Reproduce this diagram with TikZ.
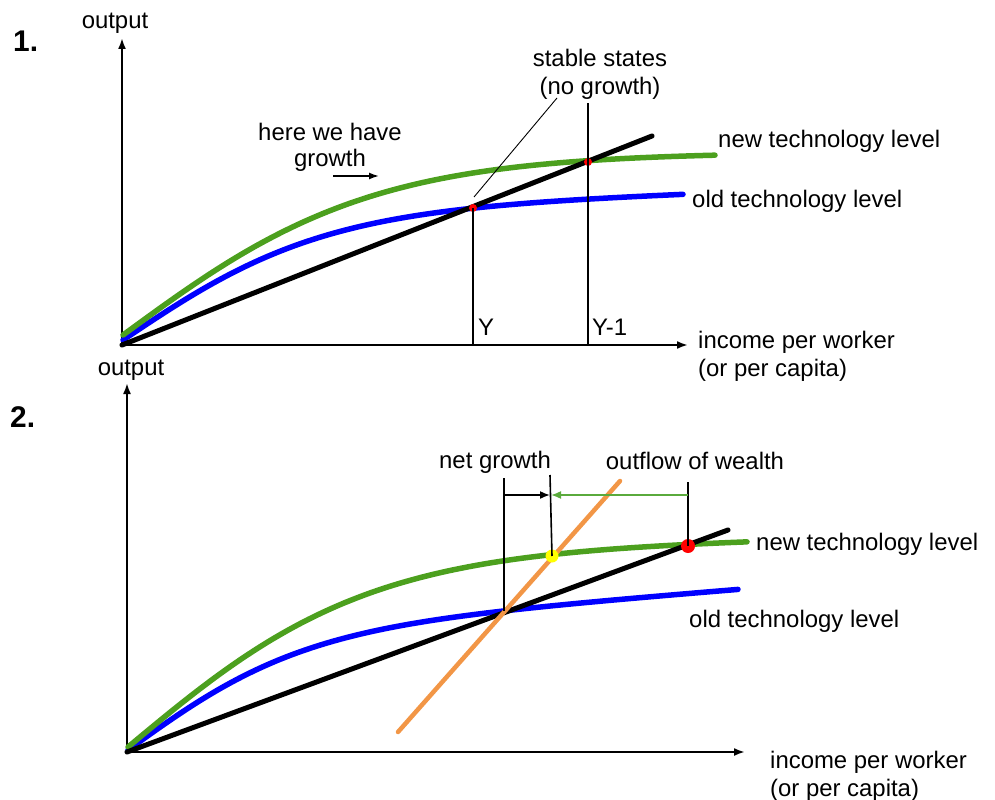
\documentclass[tikz,border=0pt]{standalone}
\usepackage{fontspec}
\setmainfont{Liberation Sans}
\usetikzlibrary{arrows.meta}
\definecolor{cgreen}{RGB}{76,160,30}
\definecolor{cblue}{RGB}{0,0,255}
\definecolor{corange}{RGB}{242,150,70}
\definecolor{cgreenarrow}{RGB}{90,170,60}
\definecolor{cred}{RGB}{255,0,0}
\definecolor{cyellow}{RGB}{255,255,0}
\begin{document}
\begin{tikzpicture}[x=1bp,y=-1bp,
  lbl/.style={font=\fontsize{24}{28}\selectfont, inner sep=0pt},
  numlbl/.style={font=\fontsize{30}{34}\selectfont\bfseries, inner sep=0pt},
  axis/.style={line width=2bp, -{Latex[length=11bp,width=8bp]}},
  curve/.style={line width=5.5bp, line cap=round},
  guide/.style={line width=1.6bp},
  pointer/.style={line width=0.9bp},
  dot/.style={circle, inner sep=0pt, minimum size=#1},
  smallarrow/.style={line width=1.6bp, -{Latex[length=10bp,width=7bp]}}
]
\useasboundingbox (0,0) rectangle (995,800);

% ---------------- Panel 1 ----------------
\node[numlbl, anchor=base west] (n1) at (13,52) {1.};
\coordinate (O1) at (122,345);
\coordinate (Y1top) at (122,38);
\coordinate (X1end) at (688,345);
\draw[axis] (O1) -- (Y1top);
\draw[axis] (O1) -- (X1end);
\node[lbl, anchor=base] (out1) at (115,29) {output};

\draw[curve, cblue] plot[domain=123:683, samples=90, variable=\x]
  (\x, {340-(127*tanh((\x-123)/200)+0.035*(\x-123))});
\draw[curve, cgreen] plot[domain=123:715, samples=90, variable=\x]
  (\x, {335-183*tanh((\x-123)/250)});
\coordinate (B1end) at (652,136);
\draw[curve, black, line width=5bp] (O1) -- (B1end);

\node[dot=8bp, fill=cred] (s1) at (473,208) {};
\node[dot=8bp, fill=cred] (s2) at (588,162) {};
\coordinate (Ybase) at (473,345);
\coordinate (Y1base) at (588,345);
\coordinate (Y1topline) at (588,103);
\draw[guide] (s1.center) -- (Ybase);
\draw[guide] (Y1topline) -- (Y1base);

\coordinate (p1a) at (474,197);
\coordinate (p1b) at (557,98);
\draw[pointer] (p1a) -- (p1b);

\node[lbl, anchor=base] (st1) at (600,67) {stable states};
\node[lbl, anchor=base] (st2) at (600,95) {(no growth)};
\node[lbl, anchor=base] (hg1) at (330,140) {here we have};
\node[lbl, anchor=base] (hg2) at (330,166) {growth};
\coordinate (ga) at (333,176);
\coordinate (gb) at (379,176);
\draw[smallarrow] (ga) -- (gb);

\node[lbl, anchor=base west] (new1) at (718,147) {new technology level};
\node[lbl, anchor=base west] (old1) at (692,207) {old technology level};
\node[lbl, anchor=base west] (ylab) at (478,335) {Y};
\node[lbl, anchor=base west] (y1lab) at (592,335) {Y-1};
\node[lbl, anchor=base west] (inc1) at (698,348) {income per worker};
\node[lbl, anchor=base west] (cap1) at (698,376) {(or per capita)};

% ---------------- Panel 2 ----------------
\node[numlbl, anchor=base west] (n2) at (10,427) {2.};
\coordinate (O2) at (127,752);
\coordinate (Y2top) at (127,383);
\coordinate (X2end) at (745,752);
\draw[axis] (O2) -- (Y2top);
\draw[axis] (O2) -- (X2end);
\node[lbl, anchor=base] (out2) at (131,375) {output};

\draw[curve, cblue] plot[domain=128:738, samples=90, variable=\x]
  (\x, {750-(112*tanh((\x-128)/175)+0.08*(\x-128))});
\draw[curve, cgreen] plot[domain=128:747, samples=90, variable=\x]
  (\x, {747-(195*tanh((\x-128)/240)+0.02*(\x-128))});
\coordinate (B2end) at (728,530);
\draw[curve, black, line width=5bp] (O2) -- (B2end);
\coordinate (ora) at (398,732);
\coordinate (orb) at (620,481);
\draw[line width=4.5bp, corange, line cap=round] (ora) -- (orb);

\coordinate (cross) at (504,611);
\node[dot=13bp, fill=cyellow] (yel) at (552,556) {};
\node[dot=14bp, fill=cred] (red2) at (688,546) {};
\coordinate (v1top) at (504,478);
\coordinate (v2top) at (550,475);
\coordinate (v3top) at (688,482);
\draw[guide] (v1top) -- (cross);
\draw[guide] (v2top) -- (yel.center);
\draw[guide] (v3top) -- (red2.center);

\coordinate (na) at (504,495);
\coordinate (nb) at (550,495);
\coordinate (oa) at (688,495);
\coordinate (ob) at (551,495);
\draw[line width=1.6bp, -{Latex[length=10bp,width=8bp]}] (na) -- (nb);
\draw[line width=1.6bp, cgreenarrow, -{Latex[length=10bp,width=8bp]}] (oa) -- (ob);

\node[lbl, anchor=base] (ng) at (495,468) {net growth};
\node[lbl, anchor=base] (ow) at (695,469) {outflow of wealth};
\node[lbl, anchor=base west] (new2) at (756,550) {new technology level};
\node[lbl, anchor=base west] (old2) at (689,627) {old technology level};
\node[lbl, anchor=base west] (inc2) at (770,768) {income per worker};
\node[lbl, anchor=base west] (cap2) at (770,796) {(or per capita)};
\end{tikzpicture}
\end{document}
